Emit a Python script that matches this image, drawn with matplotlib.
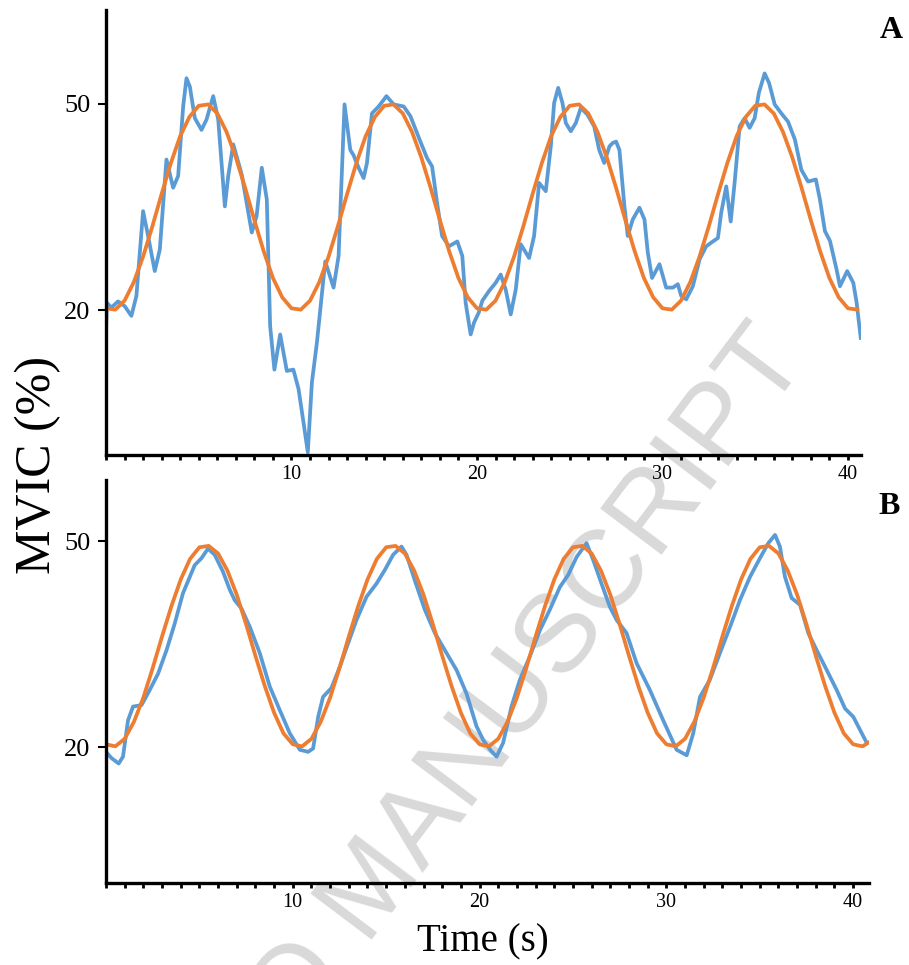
import matplotlib
matplotlib.use("Agg")
import matplotlib.pyplot as plt
import numpy as np
from matplotlib.ticker import MultipleLocator, FixedLocator

plt.rcParams['font.family'] = ['Liberation Serif', 'DejaVu Serif']

# panel A : measured force (blue) and target sine (orange)
time_a = [0.0, 0.05, 0.29, 0.65, 1.01, 1.37, 1.64, 2.0, 2.27, 2.63, 2.9, 3.26, 3.62, 3.89,
          4.16, 4.34, 4.52, 4.79, 5.15, 5.42, 5.78, 6.05, 6.41, 6.59, 6.86, 7.32, 7.86,
          8.12, 8.40, 8.67, 8.85, 9.08, 9.39, 9.75, 10.1, 10.38, 10.65, 10.88, 11.1, 11.37,
          11.82, 12.27, 12.54, 12.86, 13.17, 13.35, 13.62, 13.89, 14.07, 14.34, 14.7, 15.12,
          15.51, 16.05, 16.41, 16.95, 17.31, 17.58, 17.85, 18.12, 18.49, 18.94, 19.21, 19.39,
          19.66, 19.84, 20.1, 20.29, 20.65, 21.01, 21.28, 21.55, 21.82, 22.09, 22.36, 22.81,
          23.08, 23.35, 23.71, 23.98, 24.16, 24.38, 24.61, 24.79, 25.06, 25.33, 25.6, 25.96,
          26.32, 26.59, 26.86, 27.14, 27.32, 27.5, 27.68, 27.95, 28.13, 28.4, 28.76, 29.03,
          29.21, 29.44, 29.84, 30.2, 30.56, 30.83, 31.01, 31.28, 31.64, 32.0, 32.36, 32.72,
          32.99, 33.17, 33.44, 33.68, 33.89, 34.16, 34.43, 34.7, 34.97, 35.2, 35.51, 35.75,
          36.05, 36.41, 36.77, 37.14, 37.49, 37.85, 38.27, 38.49, 38.76, 39.03, 39.39, 39.57,
          39.96, 40.29, 40.47, 40.69]
mvic_a = [17.0, 21.1, 20.4, 21.3, 20.6, 19.2, 22.1, 34.4, 30.8, 25.7, 28.8, 41.9, 37.8, 39.5,
          49.6, 53.7, 52.5, 47.9, 46.2, 47.7, 51.1, 47.7, 35.1, 39.5, 44.1, 39.7, 31.3,
          33.7, 40.7, 36.1, 17.7, 11.4, 16.5, 11.2, 11.4, 8.6, 3.7, -0.6, 9.5, 15.3,
          27.1, 23.3, 27.9, 49.9, 43.3, 42.5, 40.7, 39.2, 41.4, 48.6, 49.6, 51.1,
          49.9, 49.6, 48.2, 44.5, 42.1, 40.9, 35.6, 30.8, 29.3, 30.0, 27.9, 21.1,
          16.5, 18.2, 19.7, 21.4, 22.8, 24.0, 25.2, 23.0, 19.4, 23.0, 29.6, 27.6,
          30.8, 38.5, 37.3, 43.8, 50.1, 52.3, 50.1, 47.2, 46.0, 47.2, 49.4, 48.4,
          46.7, 43.3, 41.4, 43.8, 44.3, 44.5, 43.3, 35.1, 30.8, 33.2, 34.9, 33.2,
          28.4, 24.7, 26.7, 23.3, 23.3, 23.8, 22.1, 21.6, 23.5, 27.4, 29.3, 30.0,
          30.5, 34.2, 38.0, 32.9, 38.5, 46.7, 47.9, 46.5, 47.9, 51.6, 54.4, 53.0,
          49.9, 48.6, 47.4, 44.8, 40.4, 38.7, 39.0, 36.1, 31.5, 30.1, 25.9, 23.5,
          25.7, 24.0, 21.1, 16.0]
target_a = [20.3, 20.1, 21.4, 24.1, 27.8, 32.2, 36.9, 41.4, 45.3, 48.1, 49.7, 49.9, 48.6, 45.9, 42.2, 37.8, 33.1, 28.6, 24.7, 21.9,
            20.3, 20.1, 21.4, 24.1, 27.8, 32.2, 36.9, 41.4, 45.3, 48.1, 49.7, 49.9, 48.6, 45.9, 42.2, 37.8, 33.1, 28.6, 24.7, 21.9,
            20.3, 20.1, 21.4, 24.1, 27.8, 32.2, 36.9, 41.4, 45.3, 48.1, 49.7, 49.9, 48.6, 45.9, 42.2, 37.8, 33.1, 28.6, 24.7, 21.9,
            20.3, 20.1, 21.4, 24.1, 27.8, 32.2, 36.9, 41.4, 45.3, 48.1, 49.7, 49.9, 48.6, 45.9, 42.2, 37.8, 33.1, 28.6, 24.7, 21.9,
            20.3, 20.1]
target_time_a = np.arange(0, 40.51, 0.5)

# panel B
time_b = [0.0, 0.29, 0.68, 0.91, 1.18, 1.45, 1.9, 2.34, 2.79, 3.24, 3.68, 4.12, 4.75, 5.11,
          5.46, 5.82, 6.27, 6.63, 6.89, 7.25, 7.7, 8.23, 8.77, 9.3, 9.84, 10.38, 10.82, 11.09,
          11.36, 11.62, 12.07, 12.52, 12.96, 13.41, 13.95, 14.48, 14.93, 15.37, 15.82, 16.09,
          16.53, 17.07, 17.61, 18.23, 18.77, 19.3, 19.84, 20.2, 20.6, 20.91, 21.26, 21.71,
          22.16, 22.69, 23.23, 23.76, 24.3, 24.75, 25.2, 25.73, 26.09, 26.53, 26.98, 27.34,
          27.87, 28.41, 29.12, 29.83, 30.55, 31.09, 31.44, 31.8, 32.33, 32.87, 33.41, 33.94,
          34.48, 35.01, 35.46, 35.82, 36.08, 36.35, 36.71, 37.16, 37.6, 38.05, 38.59, 39.12,
          39.57, 40.01, 40.37, 40.73]
mvic_b = [19.3, 18.4, 17.6, 18.6, 23.9, 25.9, 26.1, 28.3, 30.7, 34.1, 38.0, 42.4, 46.5, 47.5,
          48.9, 48.0, 45.5, 42.9, 41.4, 40.2, 37.5, 33.7, 28.8, 25.4, 22.0, 19.6, 19.3, 19.8,
          24.4, 27.3, 28.6, 31.7, 35.1, 38.5, 41.9, 43.8, 45.8, 48.0, 49.2, 48.0,
          44.3, 40.0, 36.6, 33.7, 31.2, 27.8, 23.0, 21.0, 19.5, 18.6, 20.6, 25.9,
          29.8, 33.2, 37.0, 40.0, 43.3, 45.1, 47.7, 49.7, 47.2, 43.8, 40.4, 38.5,
          36.6, 32.2, 28.3, 23.9, 19.6, 18.8, 22.0, 27.3, 29.8, 33.7, 37.5, 41.4,
          44.8, 47.5, 49.7, 50.9, 49.2, 44.8, 41.7, 40.7, 36.6, 34.1, 31.2, 28.3,
          25.6, 24.4, 22.5, 20.6]
target_b = [20.4, 20.1, 21.2, 23.7, 27.2, 31.5, 36.1, 40.5, 44.4, 47.4, 49.1, 49.3, 48.2, 45.7, 42.2, 37.9, 33.3, 28.9, 25.0, 22.0,
            20.4, 20.1, 21.2, 23.7, 27.2, 31.5, 36.1, 40.5, 44.4, 47.4, 49.1, 49.3, 48.2, 45.7, 42.2, 37.9, 33.3, 28.9, 25.0, 22.0,
            20.4, 20.1, 21.2, 23.7, 27.2, 31.5, 36.1, 40.5, 44.4, 47.4, 49.1, 49.3, 48.2, 45.7, 42.2, 37.9, 33.3, 28.9, 25.0, 22.0,
            20.4, 20.1, 21.2, 23.7, 27.2, 31.5, 36.1, 40.5, 44.4, 47.4, 49.1, 49.3, 48.2, 45.7, 42.2, 37.9, 33.3, 28.9, 25.0, 22.0,
            20.4, 20.1, 20.7]
target_time_b = list(np.arange(0, 40.51, 0.5)) + [40.85]

BLUE = '#5b9bd5'
ORANGE = '#ed7d31'

fig = plt.figure(figsize=(9.09, 9.65), dpi=100)
ax_a = fig.add_axes([0.1166, 0.5285, 0.8305, 0.4611])
ax_b = fig.add_axes([0.1166, 0.0850, 0.8394, 0.4176])

panels = [(ax_a, time_a, mvic_a, target_time_a, target_a, (0, 40.7), (-1, 63.6), 'A', 1.04, 0.955),
          (ax_b, time_b, mvic_b, target_time_b, target_b, (0, 40.85), (0.2, 58.9), 'B', 1.027, 0.933)]

for ax, t, v, tt, tv, xl, yl, lab, lx, ly in panels:
    ax.patch.set_alpha(0)
    ax.plot(t, v, color=BLUE, lw=2.7, solid_joinstyle='round')
    ax.plot(tt, tv, color=ORANGE, lw=2.7, solid_joinstyle='round')
    ax.set_xlim(*xl)
    ax.set_ylim(*yl)
    for s in ['top', 'right']:
        ax.spines[s].set_visible(False)
    for s in ['left', 'bottom']:
        ax.spines[s].set_linewidth(2.4)
    ax.xaxis.set_major_locator(FixedLocator([10, 20, 30, 40]))
    ax.xaxis.set_minor_locator(MultipleLocator(1))
    ax.yaxis.set_major_locator(FixedLocator([20, 50]))
    ax.tick_params(axis='x', which='both', direction='out', length=3.5, width=2, labelsize=14.5, pad=4)
    ax.tick_params(axis='y', which='major', direction='out', length=6, width=1.5, labelsize=19, pad=5)
    ax.text(lx, ly, lab, transform=ax.transAxes, fontsize=23, fontweight='bold',
            ha='center', va='center')

fig.text(38 / 909, 1 - 465 / 965, 'MVIC (%)', rotation=90, fontsize=36, ha='center', va='center')
fig.text(483 / 909, 1 - 942 / 965, 'Time (s)', fontsize=28, ha='center', va='center')

# watermark, behind the data
fig.text(374 / 909, 1 - 890 / 965, 'ACCEPTED MANUSCRIPT', rotation=53, fontsize=80,
         family='Liberation Sans', color='#d9d9d9', ha='center', va='center',
         rotation_mode='anchor', zorder=-1)

plt.savefig('out.png', dpi=100)
